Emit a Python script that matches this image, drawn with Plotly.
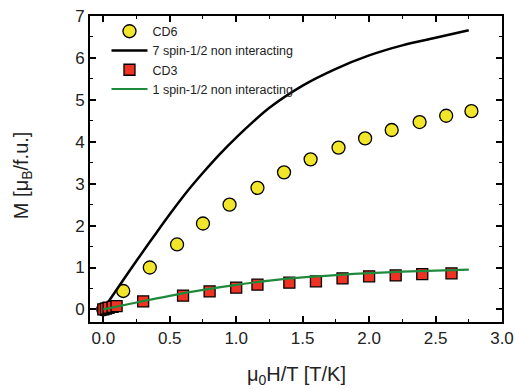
import plotly.graph_objects as go

# CD6 data
cd6_x = [0.0, 0.15, 0.35, 0.555, 0.75, 0.95, 1.16, 1.36, 1.56, 1.77, 1.97, 2.17, 2.38, 2.58, 2.77]
cd6_y = [0.0, 0.44, 1.0, 1.55, 2.05, 2.5, 2.9, 3.27, 3.58, 3.86, 4.08, 4.28, 4.47, 4.62, 4.73]

l7_x = [0.0, 0.1, 0.25, 0.375, 0.5, 0.625, 0.75, 0.875, 1.0, 1.25, 1.5, 1.75, 2.0, 2.25, 2.5, 2.75]
l7_y = [0.0, 0.47, 1.16, 1.72, 2.27, 2.79, 3.26, 3.7, 4.1, 4.81, 5.34, 5.74, 6.06, 6.3, 6.48, 6.66]

# CD3 data
cd3_x = [0.0, 0.02, 0.04, 0.07, 0.1, 0.3, 0.6, 0.8, 1.0, 1.16, 1.4, 1.6, 1.8, 2.0, 2.2, 2.4, 2.62]
cd3_y = [0.0, 0.02, 0.04, 0.06, 0.08, 0.19, 0.33, 0.43, 0.52, 0.59, 0.64, 0.67, 0.74, 0.79, 0.81, 0.84, 0.86]

l1_x = [0.0, 0.25, 0.5, 0.75, 1.0, 1.25, 1.5, 1.75, 2.0, 2.25, 2.5, 2.75]
l1_y = [0.0, 0.166, 0.324, 0.466, 0.586, 0.686, 0.763, 0.82, 0.866, 0.9, 0.926, 0.951]

FONT = "Liberation Sans, Arial"

fig = go.Figure()
fig.add_trace(go.Scatter(x=cd6_x, y=cd6_y, mode="markers", name="CD6",
                         marker=dict(symbol="circle", size=13, color="#f2e62a",
                                     line=dict(color="black", width=1.3))))
fig.add_trace(go.Scatter(x=l7_x, y=l7_y, mode="lines", name="7 spin-1/2 non interacting",
                         line=dict(color="black", width=2.5, shape="spline")))
fig.add_trace(go.Scatter(x=cd3_x, y=cd3_y, mode="markers", name="CD3",
                         marker=dict(symbol="square", size=11, color="#ee3224",
                                     line=dict(color="black", width=1.3))))
fig.add_trace(go.Scatter(x=l1_x, y=l1_y, mode="lines", name="1 spin-1/2 non interacting",
                         line=dict(color="#1f8a3c", width=2.2, shape="spline")))

axis_common = dict(showline=True, linecolor="black", linewidth=2, mirror="ticks",
                   ticks="inside", ticklen=6, tickwidth=1.5, tickcolor="black",
                   showgrid=False, zeroline=False, automargin=False,
                   tickfont=dict(family=FONT, size=17, color="#222"))

fig.update_xaxes(range=[-0.1, 3.0], tick0=0, dtick=0.5, tickformat=".1f",
                 minor=dict(ticks="inside", ticklen=3, tickwidth=1.2, tickcolor="black", dtick=0.25),
                 **axis_common)
fig.update_yaxes(range=[-0.3, 7.0], tick0=0, dtick=1,
                 minor=dict(ticks="inside", ticklen=3, tickwidth=1.2, tickcolor="black", dtick=0.5),
                 **axis_common)

fig.add_annotation(text="μ<sub>0</sub>H/T [T/K]", xref="paper", yref="paper",
                   x=0.5, y=-0.175, xanchor="center", yanchor="middle", showarrow=False,
                   font=dict(family=FONT, size=20, color="#222"))
fig.add_annotation(text="M [μ<sub>B</sub>/f.u.]", xref="paper", yref="paper",
                   x=-0.165, y=0.48, xanchor="center", yanchor="middle", showarrow=False,
                   textangle=-90, font=dict(family=FONT, size=20, color="#222"))

fig.update_layout(width=515, height=389,
                  margin=dict(l=90, r=13, t=16, b=67),
                  paper_bgcolor="white", plot_bgcolor="white",
                  legend=dict(x=0.04, y=0.998, xanchor="left", yanchor="top",
                              bgcolor="rgba(0,0,0,0)", itemwidth=36, tracegroupgap=0,
                              font=dict(family=FONT, size=12.5, color="#222")),
                  showlegend=True)

fig.write_html("out.html")
